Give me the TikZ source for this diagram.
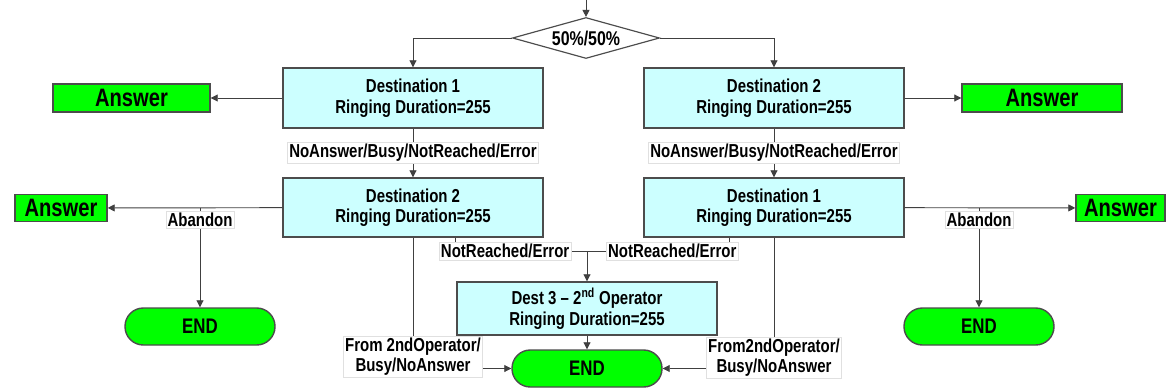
\documentclass[tikz,border=0pt]{standalone}
\usepackage{fontspec}
\setmainfont{Liberation Sans}[FakeStretch=0.8]
\usetikzlibrary{shapes.geometric,arrows.meta}
\definecolor{destfill}{HTML}{CCFFFF}
\definecolor{okfill}{HTML}{00FF00}

\begin{document}
\begin{tikzpicture}[x=0.03cm, y=-0.03cm, >={Triangle[length=6pt,width=6pt]},
    conn/.style={draw=black!75, line width=0.8pt},
    txt/.style={font=\bfseries\fontsize{16}{17.5}\selectfont},
    destbox/.style={txt, draw=black!70, line width=1.2pt, fill=destfill,
      minimum width=7.8cm, minimum height=1.8cm, align=center},
    answer/.style={draw=black!70, line width=1.2pt, fill=okfill,
      minimum height=0.84cm, font=\bfseries\fontsize{21.5}{22}\selectfont},
    endbox/.style={draw=black!70, line width=1.2pt, fill=okfill,
      font=\bfseries\fontsize{18}{20}\selectfont,
      rounded corners=0.55cm, minimum width=4.5cm, minimum height=1.11cm},
    lbl/.style={font=\bfseries\fontsize{16}{17}\selectfont, fill=white,
      draw=black!12, line width=0.4pt, inner sep=1.5pt, align=center}]
  \useasboundingbox (0,0) rectangle (1169,391);

  % split
  \coordinate (in) at (586,0);
  \node[diamond, draw=black!70, line width=1pt, fill=white, aspect=3.6, inner sep=0pt,
    minimum width=4.41cm, minimum height=1.23cm,
    font=\bfseries\fontsize{17}{18}\selectfont] (split) at (586,38) {50\%/50\%};
  \draw[conn,->] (in) -- (split);

  % first tries
  \node[destbox] (d1l) at (413,98) {Destination 1\\Ringing Duration=255};
  \node[destbox] (d2r) at (774,98) {Destination 2\\Ringing Duration=255};
  \node[answer, minimum width=4.71cm] (ansTL) at (131.5,98) {Answer};
  \node[answer, minimum width=4.8cm] (ansTR) at (1042,98) {Answer};
  \draw[conn,->] (split.west) -| (d1l.north);
  \draw[conn,->] (split.east) -| (d2r.north);
  \draw[conn,->] (d1l) -- (ansTL);
  \draw[conn,->] (d2r) -- (ansTR);

  % second tries
  \node[destbox, minimum height=1.77cm] (d2l) at (413,207.5) {Destination 2\\Ringing Duration=255};
  \node[destbox, minimum height=1.77cm] (d1r) at (774,207.5) {Destination 1\\Ringing Duration=255};
  \draw[conn,->] (d1l) -- node[lbl] {NoAnswer/Busy/NotReached/Error} (d2l);
  \draw[conn,->] (d2r) -- node[lbl] {NoAnswer/Busy/NotReached/Error} (d1r);

  \node[answer, minimum width=2.76cm, minimum height=0.81cm] (ansBL) at (61,208) {Answer};
  \node[answer, minimum width=2.67cm, minimum height=0.81cm] (ansBR) at (1120.5,208) {Answer};
  \node[endbox] (endL) at (200,326.5) {END};
  \node[endbox] (endR) at (979,326.5) {END};
  \coordinate (abL) at (200,207.5);
  \coordinate (abR) at (979,207.5);
  \draw[conn,->] (d2l) -- (ansBL);
  \draw[conn,->] (d1r) -- (ansBR);
  \draw[conn,->] (abL) -- node[lbl, pos=0.12] {Abandon} (endL);
  \draw[conn,->] (abR) -- node[lbl, pos=0.12] {Abandon} (endR);

  % second operator
  \node[destbox, minimum height=1.59cm] (dest3) at (587,308.5)
    {Dest 3 -- 2\textsuperscript{nd} Operator\\Ringing Duration=255};
  \node[endbox] (endM) at (587,368.5) {END};
  \path (d2l.south) ++(42,0) coordinate (nrLs);
  \path (d1r.south) ++(-45,0) coordinate (nrRs);
  \coordinate (nrM) at (587,251);
  \draw[conn] (nrLs) |- node[lbl, pos=0.69] {NotReached/Error} (nrM);
  \draw[conn] (nrRs) |- node[lbl, pos=0.70] {NotReached/Error} (nrM);
  \draw[conn,->] (nrM) -- (dest3);
  \draw[conn,->] (dest3) -- (endM);
  \draw[conn,->] (d2l.south) |- node[lbl, pos=0.455] {From 2ndOperator/\\Busy/NoAnswer} (endM.west);
  \draw[conn,->] (d1r.south) |- node[lbl, pos=0.46] {From2ndOperator/\\Busy/NoAnswer} (endM.east);
\end{tikzpicture}
\end{document}
